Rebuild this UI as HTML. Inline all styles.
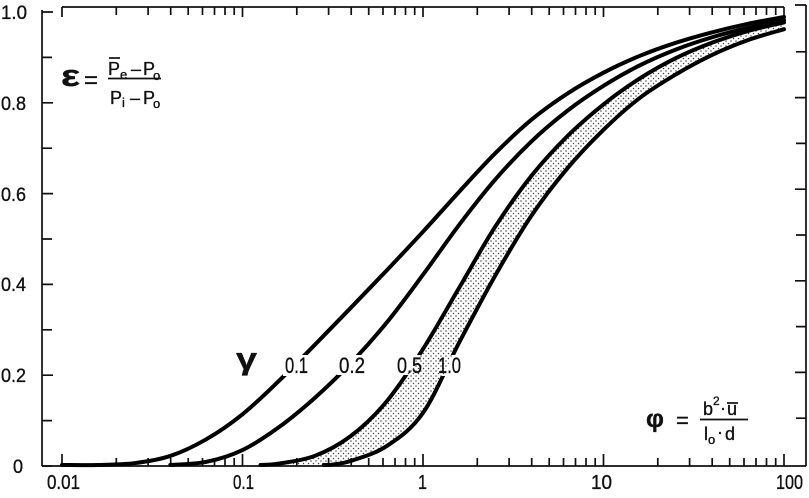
<!DOCTYPE html>
<html>
<head>
<meta charset="utf-8">
<style>
  html, body { margin:0; padding:0; background:#fff; }
  body { width:809px; height:498px; overflow:hidden; }
  svg { display:block; }
  text { font-family:"Liberation Sans", "DejaVu Sans", sans-serif; fill:#111; }
  .lab text { stroke:#111; stroke-width:0.35; }
</style>
</head>
<body>
<svg id="chart" width="809" height="498" viewBox="0 0 809 498" xmlns="http://www.w3.org/2000/svg">
  <defs>
    <pattern id="dots" width="5" height="5" patternUnits="userSpaceOnUse">
      <circle cx="1" cy="1" r="0.75" fill="#444"/>
      <circle cx="3.5" cy="3.5" r="0.75" fill="#444"/>
    </pattern>
    <mask id="gaps" maskUnits="userSpaceOnUse" x="0" y="0" width="809" height="498">
      <rect x="0" y="0" width="809" height="498" fill="#fff"/>
      <rect x="283" y="355" width="26" height="21" fill="#000"/>
      <rect x="337" y="355" width="29" height="20" fill="#000"/>
      <rect x="396" y="355" width="28" height="20" fill="#000"/>
      <rect x="436" y="355" width="26" height="21" fill="#000"/>
    </mask>
  </defs>
  <rect x="0" y="0" width="809" height="498" fill="#fff"/>

  <!-- stippled band between 0.5 and 1.0 -->
  <path id="band" fill="url(#dots)" d="M265,465 L285,463 307,458 325,451 340,443 360,430 373,418 388,400 400,383 404,375 420,352 440,320 453,296 467,273 490,233 508,205 530,175 553,152 570,135 587,119 603,105 620,90 637,78 653,68 680,55 705,45 733,37 758,30 783,24 783,29 758,36 733,46 705,58 680,72 658,85 637,100 620,114 603,130 587,146 570,163 550,187 525,222 503,262 490,286 477,310 465,330 453,350 440,377 429,399 417,420 405,433 393,443 377,451 360,458 345,462.5 330,465 Z"/>

  <!-- axes -->
  <g stroke="#111" stroke-width="1.7" fill="none">
    <path d="M42 10 V466"/>
    <path d="M42 466 H806"/>
    <path d="M62 7 H784"/>
    <path d="M806 5 V466 M806 5 H795"/>
    <path d="M42 466 H52 M42 420.6 H52 M42 375.2 H53 M42 329.8 H52 M42 284.4 H53 M42 239 H52 M42 193.6 H53 M42 148.2 H52 M42 102.8 H53 M42 57.4 H52 M42 12 H53"/>
    <path d="M806 418.2 H796 M806 372.4 H795 M806 326.6 H796 M806 280.8 H795 M806 235 H796 M806 189.2 H795 M806 143.4 H796 M806 97.6 H795 M806 51.8 H796"/>
    <path d="M62 466 V454 M242.5 466 V454 M423 466 V454 M603.5 466 V454 M784 466 V454"/>
    <path d="M116.3 466 V458 M148.1 466 V458 M170.7 466 V458 M188.2 466 V458 M202.5 466 V458 M214.5 466 V458 M225 466 V458 M234.2 466 V458
             M296.8 466 V458 M328.6 466 V458 M351.2 466 V458 M368.7 466 V458 M383 466 V458 M395 466 V458 M405.5 466 V458 M414.7 466 V458
             M477.3 466 V458 M509.1 466 V458 M531.7 466 V458 M549.2 466 V458 M563.5 466 V458 M575.5 466 V458 M586 466 V458 M595.2 466 V458
             M657.8 466 V458 M689.6 466 V458 M712.2 466 V458 M729.7 466 V458 M744 466 V458 M756 466 V458 M766.5 466 V458 M775.7 466 V458"/>
    <path d="M62 7 V17 M242.5 7 V17 M423 7 V17 M603.5 7 V17 M784 7 V17"/>
    <path d="M116.3 7 V15 M148.1 7 V15 M170.7 7 V15 M188.2 7 V15 M202.5 7 V15 M214.5 7 V15 M225 7 V15 M234.2 7 V15
             M296.8 7 V15 M328.6 7 V15 M351.2 7 V15 M368.7 7 V15 M383 7 V15 M395 7 V15 M405.5 7 V15 M414.7 7 V15
             M477.3 7 V15 M509.1 7 V15 M531.7 7 V15 M549.2 7 V15 M563.5 7 V15 M575.5 7 V15 M586 7 V15 M595.2 7 V15
             M657.8 7 V15 M689.6 7 V15 M712.2 7 V15 M729.7 7 V15 M744 7 V15 M756 7 V15 M766.5 7 V15 M775.7 7 V15"/>
  </g>

  <!-- curves (fallback polylines; replaced by script with smooth paths) -->
  <g id="curves" stroke="#000" stroke-width="4" fill="none" stroke-linejoin="round" stroke-linecap="round">
    <polyline points="62,464 90,465 110,465 123,464.5 140,463 157,460 173,454.5 190,447 207,438 223,427 240,416 257,403 271,390 283,376"/>
    <polyline points="303,355 323,339 350,310 370,290 390,270 407,253 423,237 438,218 453,200 467,184 493,155 520,127 537,114 553,102 570,92 587,82 603,73 620,65 637,57 653,50 680,42 705,35 733,28 758,22 783,17"/>
    <polyline points="185,465 200,464 212,461.5 223,458 240,450 257,440 273,427 290,413 307,400 323,387 332,378 339,369"/>
    <polyline points="363,352 377,338 390,323 407,298 423,273 437,253 450,233 463,216 477,200 500,170 520,148 537,133 553,120 570,107 587,95 603,84 620,75 637,66 653,58 680,47 705,39 733,31 758,25 783,20"/>
    <polyline points="265,465 285,463 307,458 325,451 340,443 360,430 373,418 388,400 400,383 404,375"/>
    <polyline points="420,352 440,320 453,296 467,273 490,233 508,205 530,175 553,152 570,135 587,119 603,105 620,90 637,78 653,68 680,55 705,45 733,37 758,30 783,24"/>
    <polyline points="330,465 345,462.5 360,458 377,451 393,443 405,433 417,420 429,399 440,377"/>
    <polyline points="453,350 465,330 477,310 490,286 503,262 525,222 550,187 570,163 587,146 603,130 620,114 637,100 658,85 680,72 705,58 733,46 758,36 783,29"/>
  </g>

  <g class="lab">
  <g font-size="19">
    <text x="1" y="19" textLength="26" lengthAdjust="spacingAndGlyphs">1.0</text>
    <text x="1" y="110" textLength="25" lengthAdjust="spacingAndGlyphs">0.8</text>
    <text x="1" y="201" textLength="25" lengthAdjust="spacingAndGlyphs">0.6</text>
    <text x="1" y="291" textLength="25" lengthAdjust="spacingAndGlyphs">0.4</text>
    <text x="1" y="382" textLength="25" lengthAdjust="spacingAndGlyphs">0.2</text>
    <text x="13" y="473" textLength="10" lengthAdjust="spacingAndGlyphs">0</text>
  </g>

  <g font-size="20">
    <text x="47" y="489" textLength="33" lengthAdjust="spacingAndGlyphs">0.01</text>
    <text x="233" y="489" textLength="21" lengthAdjust="spacingAndGlyphs">0.1</text>
    <text x="418" y="489" textLength="9" lengthAdjust="spacingAndGlyphs">1</text>
    <text x="591" y="489" textLength="21" lengthAdjust="spacingAndGlyphs">10</text>
    <text x="776" y="489" textLength="27" lengthAdjust="spacingAndGlyphs">100</text>
  </g>

  <text x="236" y="369" font-size="31" font-weight="bold" textLength="21" lengthAdjust="spacingAndGlyphs">γ</text>
  <g font-size="22">
    <text x="285" y="373" textLength="23" lengthAdjust="spacingAndGlyphs">0.1</text>
    <text x="339" y="373" textLength="26" lengthAdjust="spacingAndGlyphs">0.2</text>
    <text x="397" y="373" textLength="25" lengthAdjust="spacingAndGlyphs">0.5</text>
    <text x="438" y="373" textLength="23" lengthAdjust="spacingAndGlyphs">1.0</text>
  </g>

  <text x="61" y="86" font-size="31" font-weight="bold" textLength="19" lengthAdjust="spacingAndGlyphs">ε</text>
  <text x="84" y="88" font-size="24">=</text>
  <g font-size="18">
    <text x="108" y="75">P</text>
    <text x="120" y="79" font-size="13">e</text>
    <text x="131" y="75">–</text>
    <text x="143" y="75">P</text>
    <text x="153" y="80" font-size="13">o</text>
    <text x="110" y="104">P</text>
    <text x="122" y="107" font-size="13">i</text>
    <text x="130" y="104">–</text>
    <text x="143" y="104">P</text>
    <text x="153" y="108" font-size="13">o</text>
  </g>

  <text x="646" y="427" font-size="25" font-weight="bold">φ</text>
  <text x="676" y="428" font-size="22">=</text>
  <g font-size="18">
    <text x="703" y="415">b</text>
    <text x="713" y="405" font-size="12">2</text>
    <text x="720" y="414">·</text>
    <text x="727" y="415">u</text>
    <text x="704" y="440">l</text>
    <text x="708" y="444" font-size="13">o</text>
    <text x="717" y="438">·</text>
    <text x="725" y="440">d</text>
  </g>
  </g>
  <g stroke="#111" stroke-width="1.7">
    <path d="M109 58 H120"/>
    <path d="M108 78.5 H161"/>
    <path d="M727 403 H738"/>
    <path d="M700 419.5 H748"/>
  </g>
</svg>
<script>
(function(){
  function X(u){ return 423 + 180.5*u; }
  function Y(e){ return 465 - 453*e; }
  function pts(data){ return data.map(function(d){ return [X(d[0]), Y(d[1])]; }); }
  function cr(p, start){
    var d = start ? 'M'+p[0][0].toFixed(2)+','+p[0][1].toFixed(2) : '';
    for (var i=0;i<p.length-1;i++){
      var p0=p[i-1]||p[i], p1=p[i], p2=p[i+1], p3=p[i+2]||p[i+1];
      var c1x=p1[0]+(p2[0]-p0[0])/6, c1y=p1[1]+(p2[1]-p0[1])/6;
      var c2x=p2[0]-(p3[0]-p1[0])/6, c2y=p2[1]-(p3[1]-p1[1])/6;
      d+=' C'+c1x.toFixed(2)+','+c1y.toFixed(2)+' '+c2x.toFixed(2)+','+c2y.toFixed(2)+' '+p2[0].toFixed(2)+','+p2[1].toFixed(2);
    }
    return d;
  }
  var c01 = [[-2.0,0],[-1.8,0],[-1.6,0.004],[-1.4,0.020],[-1.2,0.057],[-1.0,0.112],[-0.8,0.185],[-0.6,0.265],[-0.4,0.347],[-0.2,0.430],[0,0.515],[0.2,0.603],[0.4,0.688],[0.6,0.762],[0.8,0.820],[1.0,0.866],[1.2,0.903],[1.4,0.932],[1.6,0.955],[1.8,0.974],[2.0,0.989]];
  var c02 = [[-1.4,0],[-1.2,0.007],[-1.0,0.033],[-0.8,0.083],[-0.6,0.148],[-0.4,0.225],[-0.2,0.315],[0,0.420],[0.2,0.530],[0.4,0.630],[0.6,0.714],[0.8,0.782],[1.0,0.837],[1.2,0.882],[1.4,0.917],[1.6,0.944],[1.8,0.965],[2.0,0.982]];
  var c05 = [[-0.9,0],[-0.8,0.003],[-0.6,0.020],[-0.4,0.064],[-0.2,0.141],[0,0.256],[0.2,0.391],[0.4,0.526],[0.6,0.638],[0.8,0.726],[1.0,0.796],[1.2,0.853],[1.4,0.898],[1.6,0.932],[1.8,0.958],[2.0,0.977]];
  var c10 = [[-0.55,0],[-0.5,0.001],[-0.4,0.009],[-0.2,0.042],[0,0.115],[0.2,0.270],[0.4,0.418],[0.6,0.550],[0.8,0.655],[1.0,0.740],[1.2,0.810],[1.4,0.862],[1.6,0.905],[1.8,0.938],[2.0,0.962]];
  try {
    var ns='http://www.w3.org/2000/svg';
    var g=document.getElementById('curves');
    while (g.firstChild) g.removeChild(g.firstChild);
    g.setAttribute('mask','url(#gaps)');
    [c01,c02,c05,c10].forEach(function(c){
      var p=document.createElementNS(ns,'path');
      p.setAttribute('d', cr(pts(c), true));
      g.appendChild(p);
    });
    var a5=pts(c05), a10=pts(c10).reverse();
    var d=cr(a5,true)+' L'+a10[0][0].toFixed(2)+','+a10[0][1].toFixed(2)+cr(a10,false)+' Z';
    document.getElementById('band').setAttribute('d',d);
  } catch(e) {}
})();
</script>
</body>
</html>
